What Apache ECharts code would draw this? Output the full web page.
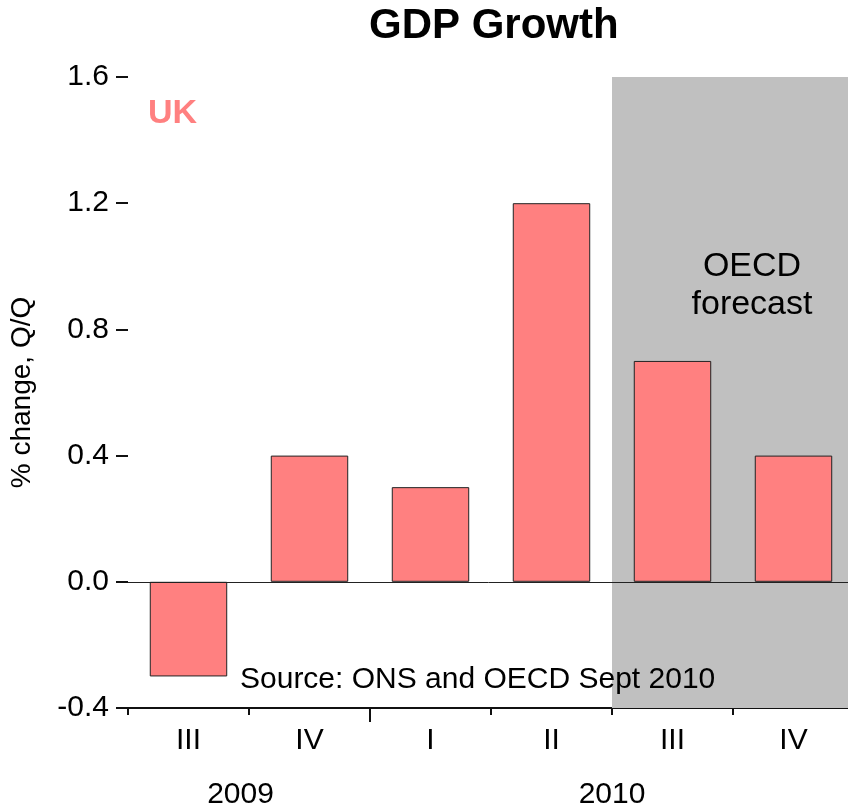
<!DOCTYPE html>
<html>
<head>
<meta charset="utf-8">
<script src="https://cdn.jsdelivr.net/npm/echarts@6/dist/echarts.min.js"></script>
<style>
html,body{margin:0;padding:0;background:#fff;}
#chart{width:848px;height:809px;}
</style>
</head>
<body>
<div id="chart"></div>
<script>
const quarters = ['III', 'IV', 'I', 'II', 'III', 'IV'];
const growth = [-0.3, 0.4, 0.3, 1.2, 0.7, 0.4];
const years = ['2009', '2010'];
const forecastStart = 4; // index of first forecast quarter
const yTicks = { min: -0.4, max: 1.6, interval: 0.4 };

const FONT = '"Liberation Sans", Arial, sans-serif';
const chart = echarts.init(document.getElementById('chart'), null, { renderer: 'canvas' });

chart.setOption({
  animation: false,
  backgroundColor: '#ffffff',
  textStyle: { fontFamily: FONT },
  title: [
    { text: 'GDP Growth', left: 369, top: 5, padding: 0,
      textStyle: { fontFamily: FONT, fontSize: 42, fontWeight: 'bold', color: '#000' } },
    { text: 'UK', left: 148, top: 97, padding: 0,
      textStyle: { fontFamily: FONT, fontSize: 34, fontWeight: 'bold', color: '#FF8080' } },
    { text: 'OECD\nforecast', left: 752, top: 248, padding: 0, textAlign: 'center',
      textStyle: { fontFamily: FONT, fontSize: 34, fontWeight: 'normal', color: '#000', lineHeight: 38, align: 'center' } },
    { text: 'Source: ONS and OECD Sept 2010', left: 240, top: 665, padding: 0,
      textStyle: { fontFamily: FONT, fontSize: 30, fontWeight: 'normal', color: '#000' } }
  ],
  grid: { left: 128, right: -6, top: 77, bottom: 101, containLabel: false, outerBoundsMode: 'none' },
  xAxis: [
    {
      type: 'category',
      data: quarters,
      position: 'bottom',
      axisLine: { onZero: false, lineStyle: { color: '#111', width: 2 } },
      axisTick: { show: true, alignWithLabel: false, length: 7, lineStyle: { color: '#111', width: 2 } },
      axisLabel: { fontFamily: FONT, fontSize: 30, color: '#000', margin: 18 },
      splitLine: { show: false }
    },
    {
      type: 'value',
      min: 0, max: quarters.length,
      position: 'bottom',
      axisLine: { show: false, onZero: false },
      axisTick: { show: true, customValues: [2], length: 14, lineStyle: { color: '#111', width: 2 } },
      axisLabel: {
        show: true, customValues: [0.93, 4], fontFamily: FONT, fontSize: 30, color: '#000', margin: 72,
        formatter: function (v) { return v < 2 ? years[0] : years[1]; }
      },
      splitLine: { show: false }
    }
  ],
  yAxis: {
    type: 'value',
    min: yTicks.min, max: yTicks.max, interval: yTicks.interval,
    name: '% change, Q/Q',
    nameLocation: 'middle',
    nameGap: 92,
    nameTextStyle: { fontFamily: FONT, fontSize: 28, color: '#000' },
    axisLine: { show: false },
    axisTick: { show: true, inside: false, length: 12, lineStyle: { color: '#111', width: 2 } },
    axisLabel: { fontFamily: FONT, fontSize: 30, color: '#000', margin: 19,
      formatter: function (v) { return v.toFixed(1); } },
    splitLine: { show: false }
  },
  series: [
    {
      type: 'line',
      xAxisIndex: 1,
      data: [],
      z: 1,
      silent: true,
      markArea: {
        silent: true,
        itemStyle: { color: '#C0C0C0', opacity: 1 },
        data: [[{ xAxis: forecastStart, yAxis: yTicks.min }, { xAxis: quarters.length, yAxis: yTicks.max }]]
      }
    },
    {
      type: 'bar',
      xAxisIndex: 0,
      data: growth,
      barWidth: '64%',
      z: 3,
      itemStyle: { color: '#FF8080', borderColor: '#222', borderWidth: 1 },
      markLine: {
        silent: true,
        symbol: 'none',
        label: { show: false },
        lineStyle: { color: '#222', width: 1, type: 'solid' },
        data: [{ yAxis: 0 }]
      }
    }
  ]
});
</script>
</body>
</html>
